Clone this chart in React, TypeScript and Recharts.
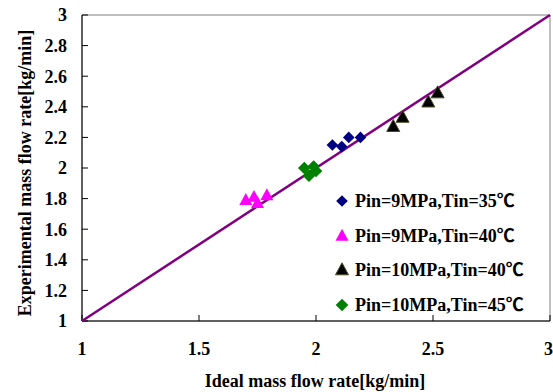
import { Label, ReferenceArea, Scatter, ScatterChart, XAxis, YAxis } from "recharts";

const FONT = "'Liberation Serif', 'Times New Roman', serif";
// the degree sign falls back to a full-width CJK glyph
const LEGEND_FONT = "'Liberation Serif', 'Noto Sans CJK SC', serif";
const LINE_COLOR = "#800080";
const FRAME_COLOR = "#808080";

const X_TICKS = [1, 1.5, 2, 2.5, 3];
const Y_TICKS = [1, 1.2, 1.4, 1.6, 1.8, 2, 2.2, 2.4, 2.6, 2.8, 3];

// ideal vs. experimental flow rate, kg/min
const ideal935 = [2.07, 2.11, 2.14, 2.19];
const exp935 = [2.15, 2.14, 2.2, 2.2];
const ideal940 = [1.7, 1.735, 1.75, 1.79];
const exp940 = [1.79, 1.81, 1.77, 1.82];
const ideal1040 = [2.33, 2.37, 2.48, 2.52];
const exp1040 = [2.27, 2.33, 2.43, 2.49];
const ideal1045 = [1.95, 1.99, 1.97, 2.0];
const exp1045 = [2.0, 2.01, 1.95, 1.98];

// y = x reference line, drawn across the axis range
const DIAGONAL = [1, 3];

type ShapeProps = { cx?: number; cy?: number };

const diamond = (r: number, fill: string) => ({ cx = 0, cy = 0 }: ShapeProps) => (
  <path d={`M${cx},${cy - r}L${cx + r},${cy}L${cx},${cy + r}L${cx - r},${cy}Z`} fill={fill} />
);

const triangle = (w: number, fill: string, stroke?: string) => ({ cx = 0, cy = 0 }: ShapeProps) => {
  const h = w * 0.92;
  return (
    <path
      d={`M${cx},${cy - h * 0.6}L${cx + w / 2},${cy + h * 0.4}L${cx - w / 2},${cy + h * 0.4}Z`}
      fill={fill}
      stroke={stroke ?? "none"}
      strokeWidth={1}
    />
  );
};

const SERIES = [
  { name: "Pin=9MPa,Tin=35℃", xs: ideal935, ys: exp935, shape: diamond(5.8, "#000080") },
  { name: "Pin=9MPa,Tin=40℃", xs: ideal940, ys: exp940, shape: triangle(13, "#ff00ff") },
  { name: "Pin=10MPa,Tin=40℃", xs: ideal1040, ys: exp1040, shape: triangle(13, "#000000", "#4a4a22") },
  { name: "Pin=10MPa,Tin=45℃", xs: ideal1045, ys: exp1045, shape: diamond(6.3, "#008000") },
];

const toPoints = (xs: number[], ys: number[]) => xs.map((x, i) => ({ x, y: ys[i] }));

const tickStyle = { fill: "#000", fontSize: 18, fontWeight: "bold", fontFamily: FONT };

function ChartLegend() {
  return (
    <div style={{ position: "absolute", left: 334, top: 184, fontFamily: LEGEND_FONT }}>
      {SERIES.map((s) => (
        <div key={s.name} style={{ display: "flex", alignItems: "center", height: 34.5 }}>
          <svg width={16} height={16} style={{ marginRight: 5 }}>
            {s.shape({ cx: 8, cy: 8 })}
          </svg>
          <span style={{ fontSize: 18, fontWeight: "bold", color: "#000", whiteSpace: "nowrap", lineHeight: "20px" }}>
            {s.name}
          </span>
        </div>
      ))}
    </div>
  );
}

export default function App() {
  return (
    <div style={{ position: "absolute", left: 0, top: 0, width: 553, height: 392, background: "#fff" }}>
      <ScatterChart width={553} height={392} margin={{ top: 15, right: 3, left: 0, bottom: 0 }}>
        <XAxis
          type="number"
          dataKey="x"
          domain={[1, 3]}
          ticks={X_TICKS}
          height={71}
          tickSize={-6}
          tickMargin={27}
          axisLine={{ stroke: "#000" }}
          tickLine={{ stroke: "#000" }}
          tick={tickStyle}
        >
          <Label
            content={() => (
              <text x={315} y={387} textAnchor="middle" fontFamily={FONT} fontSize={18} fontWeight="bold" fill="#000">
                Ideal mass flow rate[kg/min]
              </text>
            )}
          />
        </XAxis>
        <YAxis
          type="number"
          dataKey="y"
          domain={[1, 3]}
          ticks={Y_TICKS}
          width={82}
          tickSize={-6}
          tickMargin={21}
          axisLine={{ stroke: "#000" }}
          tickLine={{ stroke: "#000" }}
          tick={tickStyle}
        >
          <Label
            content={() => (
              <text
                x={31}
                y={173}
                transform="rotate(-90 31 173)"
                textAnchor="middle"
                fontFamily={FONT}
                fontSize={18}
                fontWeight="bold"
                fill="#000"
              >
                Experimental mass flow rate[kg/min]
              </text>
            )}
          />
        </YAxis>
        <ReferenceArea x1={1} x2={3} y1={1} y2={3} fill="none" stroke={FRAME_COLOR} />
        <Scatter
          data={DIAGONAL.map((v) => ({ x: v, y: v }))}
          line={{ stroke: LINE_COLOR, strokeWidth: 2.5 }}
          shape={() => <g />}
          isAnimationActive={false}
        />
        {SERIES.map((s) => (
          <Scatter key={s.name} name={s.name} data={toPoints(s.xs, s.ys)} shape={s.shape} isAnimationActive={false} />
        ))}
      </ScatterChart>
      <ChartLegend />
    </div>
  );
}
